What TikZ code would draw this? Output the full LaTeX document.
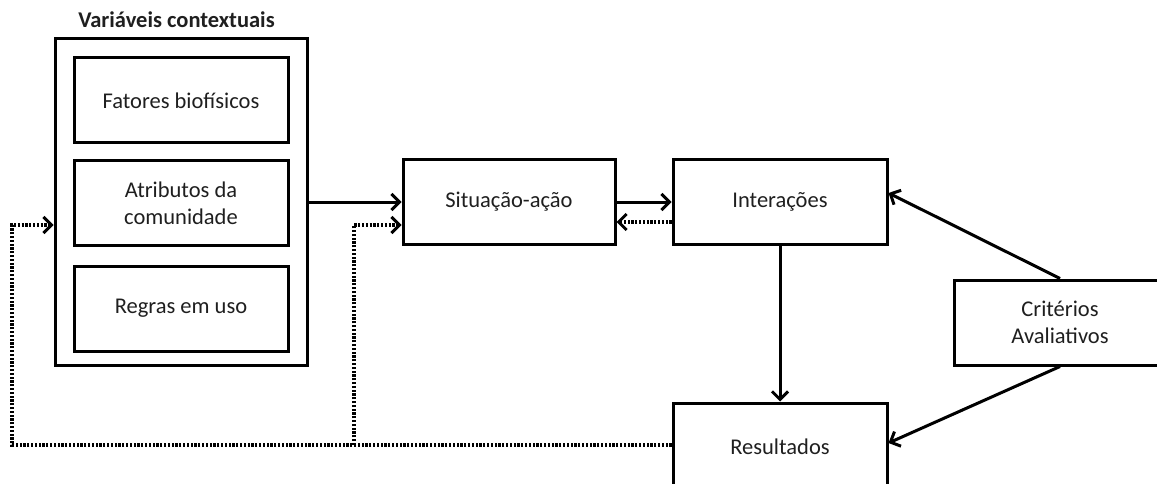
\documentclass[tikz,border=0pt]{standalone}
\usepackage{fontspec}
\setmainfont{Carlito}
\usetikzlibrary{arrows.meta}
\begin{document}
\begin{tikzpicture}[x=1pt,y=-1pt,
  every node/.style={font=\fontsize{22.5}{27}\selectfont, text=black!88},
  box/.style={draw, line width=3pt, rectangle, align=center, inner sep=0pt},
  arr/.style={line width=3pt, -{Straight Barb[length=8pt,width=16pt,line width=3pt]}},
  fb/.style={arr, line width=3.2pt, dash pattern=on 2.2pt off 1.6pt},
]
\useasboundingbox (0,0) rectangle (1157,484);
\clip (0,0) rectangle (1157,484);

% contextual variables group
\node[font=\bfseries\fontsize{22.5}{27}\selectfont] (title) at (176.5,20) {Variáveis contextuais};
\node[box, minimum width=252pt, minimum height=326pt] (outer) at (181,202) {};
\node[box, minimum width=214pt, minimum height=85pt] (fat) at (181,100.5) {Fatores biofísicos};
\node[box, minimum width=214pt, minimum height=84pt] (atr) at (181,203) {Atributos da\\comunidade};
\node[box, minimum width=214pt, minimum height=85pt] (reg) at (181,308.5) {Regras em uso};

% action arena and outcomes
\node[box, minimum width=212pt, minimum height=84pt] (sit) at (509,202) {Situação-ação};
\node[box, minimum width=214pt, minimum height=84pt] (int) at (780,202) {Interações};
\node[box, minimum width=214pt, minimum height=88pt] (res) at (780,447) {Resultados};
\node[box, minimum width=212pt, minimum height=85pt] (cri) at (1060,322.5) {Critérios\\Avaliativos};

% main flow
\draw[arr] (outer.east) -- (sit.west);
\draw[arr] (sit.east) -- (int.west);
\draw[fb] ([yshift=-20pt]int.west) -- ([yshift=-20pt]sit.east);
\draw[arr] (int.south) -- (res.north);
\draw[arr] (cri.north) -- ([yshift=9pt]int.east);
\draw[arr] (cri.south) -- ([yshift=4pt]res.east);

% feedback loops
\coordinate (cL) at (12,445);
\coordinate (cM) at (354,445);
\draw[fb] ([yshift=2pt]res.west) -- (cL) |- ([yshift=-23pt]outer.west);
\draw[fb] (cM) |- ([yshift=-23pt]sit.west);
\end{tikzpicture}
\end{document}
